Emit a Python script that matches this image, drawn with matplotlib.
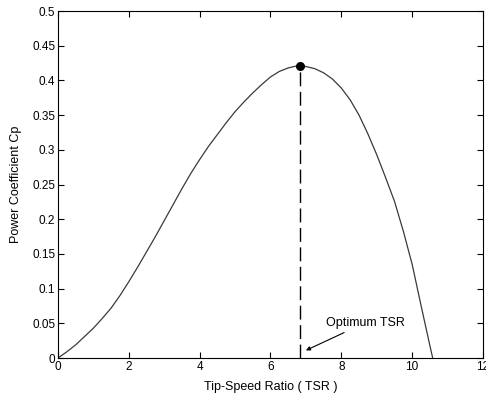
import numpy as np
import matplotlib
matplotlib.use("Agg")
import matplotlib.pyplot as plt

# Curva Cp - TSR
tsr = [0.0, 0.25, 0.5, 0.75, 1.0, 1.25, 1.5, 1.75, 2.0, 2.25, 2.5, 2.75,
       3.0, 3.25, 3.5, 3.75, 4.0, 4.25, 4.5, 4.75, 5.0, 5.25, 5.5, 5.75,
       6.0, 6.25, 6.5, 6.75, 6.85, 7.0, 7.25, 7.5, 7.75, 8.0, 8.25, 8.5,
       8.75, 9.0, 9.25, 9.5, 9.75, 10.0, 10.25, 10.5, 10.58]
cp = [0.000, 0.009, 0.019, 0.031, 0.043, 0.057, 0.072, 0.090, 0.110, 0.131,
      0.153, 0.175, 0.198, 0.221, 0.244, 0.266, 0.286, 0.305, 0.322, 0.339,
      0.355, 0.369, 0.382, 0.394, 0.405, 0.413, 0.418, 0.421, 0.421, 0.420,
      0.417, 0.411, 0.402, 0.389, 0.372, 0.350, 0.323, 0.293, 0.260, 0.226,
      0.183, 0.135, 0.076, 0.018, 0.0]

tsr_opt = 6.83
cp_max = 0.421
label_opt = "Optimum TSR"

xticks = [0, 2, 4, 6, 8, 10, 12]
yticks = [0, 0.05, 0.1, 0.15, 0.2, 0.25, 0.3, 0.35, 0.4, 0.45, 0.5]

plt.rcParams['font.family'] = ['Liberation Sans', 'DejaVu Sans']

fig = plt.figure(figsize=(4.86, 3.97), dpi=100)
ax = fig.add_axes([0.1193, 0.0982, 0.8745, 0.874])

ax.plot(tsr, cp, color='#3a3a3a', lw=0.9)
ax.plot([tsr_opt, tsr_opt], [0, cp_max], color='black', lw=1.0,
        linestyle=(0, (10, 4)))
ax.plot(tsr_opt, cp_max, 'o', color='black', markersize=5.5)

ax.annotate(label_opt, xy=(7.0, 0.011), xytext=(7.57, 0.051),
            fontsize=9, va='center', ha='left',
            arrowprops=dict(arrowstyle='-|>', color='black', lw=0.8,
                            mutation_scale=6, shrinkA=2, shrinkB=0))

ax.set_xlim(0, 12)
ax.set_ylim(0, 0.5)
ax.set_xticks(xticks)
ax.set_yticks(yticks)
ax.set_xticklabels([f"{v:g}" for v in xticks])
ax.set_yticklabels([f"{v:g}" for v in yticks])
ax.tick_params(direction='in', length=4, width=0.8, top=True, right=True,
               labelsize=8.5, pad=2)
for s in ax.spines.values():
    s.set_linewidth(0.8)

ax.set_xlabel("Tip-Speed Ratio ( TSR )", fontsize=9, labelpad=6)
ax.set_ylabel("Power Coefficient Cp", fontsize=9, labelpad=7)

fig.savefig("out.png", dpi=100)
